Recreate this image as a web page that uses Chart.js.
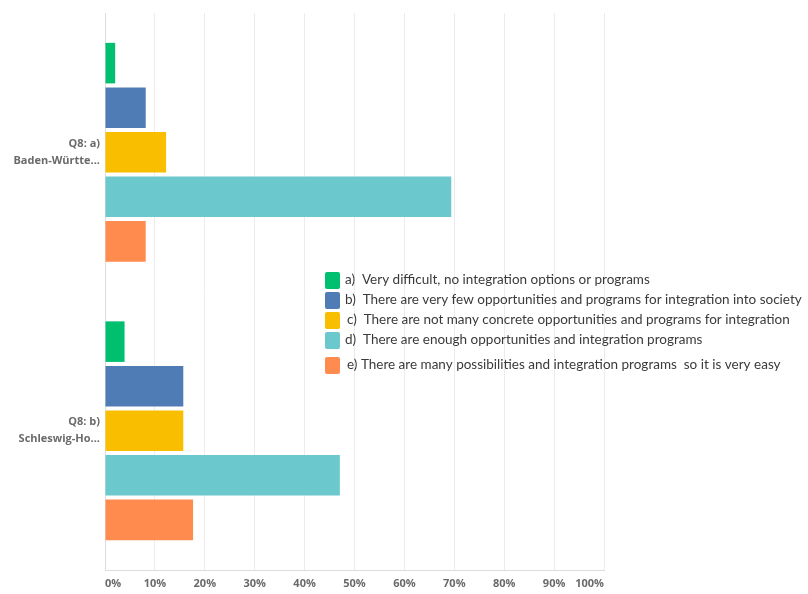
<!DOCTYPE html>
<html>
<head>
<meta charset="utf-8">
<script src="https://cdn.jsdelivr.net/npm/chart.js@4/dist/chart.umd.min.js"></script>
<style>
  html, body { margin: 0; padding: 0; background: #fff; }
  #wrap { position: relative; width: 808px; height: 594px; }
</style>
</head>
<body>
<div id="wrap"><canvas id="chart" width="808" height="594"></canvas></div>
<script>
// Q8 answers per state, share of respondents in %
const categories = [
  ['Q8: a)', 'Baden-Württe...'],
  ['Q8: b)', 'Schleswig-Ho...']
];
const answerLabels = [
  'a)  Very difficult, no integration options or programs',
  'b)  There are very few opportunities and programs for integration into society',
  'c)  There are not many concrete opportunities and programs for integration',
  'd)  There are enough opportunities and integration programs',
  'e) There are many possibilities and integration programs  so it is very easy'
];
const answerColors = ['#00BF6F', '#507CB6', '#F9BE00', '#6BC8CD', '#FF8B4F'];
const badenWuerttemberg = [2.04, 8.16, 12.24, 69.39, 8.16];
const schleswigHolstein = [3.92, 15.69, 15.69, 47.06, 17.65];
const xTicks = [0, 10, 20, 30, 40, 50, 60, 70, 80, 90, 100];

const datasets = answerLabels.map((label, i) => ({
  label: label,
  data: [badenWuerttemberg[i], schleswigHolstein[i]],
  backgroundColor: answerColors[i],
  borderWidth: 0,
  categoryPercentage: 0.8,
  barPercentage: 0.91
}));

// legend block sitting inside the plot area
const floatingLegend = {
  id: 'floatingLegend',
  afterDraw(chart, args, opts) {
    const ctx = chart.ctx;
    ctx.save();
    ctx.font = opts.font;
    ctx.textBaseline = 'middle';
    chart.data.datasets.forEach((ds, i) => {
      const y = opts.rows[i];
      ctx.fillStyle = ds.backgroundColor;
      ctx.beginPath();
      ctx.roundRect(opts.x, y - 8, 15, 17, 2);
      ctx.fill();
      ctx.fillStyle = opts.color;
      ctx.fillText(ds.label, opts.textX[i], y);
    });
    ctx.restore();
  }
};

new Chart(document.getElementById('chart'), {
  type: 'bar',
  data: { labels: categories, datasets: datasets },
  plugins: [floatingLegend],
  options: {
    indexAxis: 'y',
    responsive: false,
    animation: false,
    layout: { padding: { top: 13, right: 204, left: 0, bottom: 0 } },
    plugins: {
      legend: { display: false },
      tooltip: { enabled: false },
      floatingLegend: {
        x: 325,
        textX: [345, 345, 347, 345, 347],
        rows: [280, 300, 320, 340, 365],
        font: '13.5px Lato',
        color: '#3a3a3a'
      }
    },
    scales: {
      x: {
        min: 0,
        max: 100,
        afterBuildTicks(scale) {
          scale.ticks = xTicks.map(v => ({ value: v }));
        },
        afterFit(scale) { scale.height = 24; },
        grid: { color: '#ececec', drawTicks: false },
        border: { display: true, color: '#dcdcdc' },
        ticks: {
          align: 'inner',
          padding: 7,
          color: '#6a6a6a',
          font: { family: 'Open Sans', size: 11, weight: 'bold' },
          callback: v => v + '%'
        }
      },
      y: {
        afterFit(scale) {
          scale.width = 105;
          scale.paddingTop = 0;
          scale.paddingBottom = 0;
        },
        grid: { display: false, drawTicks: false },
        border: { display: true, color: '#dcdcdc' },
        ticks: {
          padding: 5,
          color: '#6a6a6a',
          font: { family: 'Open Sans', size: 11, weight: 'bold', lineHeight: 1.55 }
        }
      }
    }
  }
});
</script>
</body>
</html>
